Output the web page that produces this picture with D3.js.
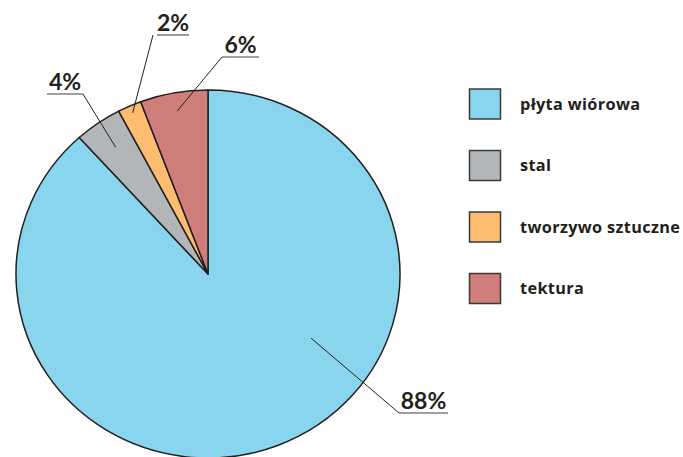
<!DOCTYPE html>
<html><head><meta charset="utf-8">
<script src="https://cdn.jsdelivr.net/npm/d3@7"></script>
<style>
body{margin:0;background:#fff;}
svg{display:block;}
text{font-family:Lato,"Open Sans",sans-serif;font-weight:700;fill:#231f20;}
text.leg{font-family:"Open Sans",Lato,sans-serif;font-weight:700;letter-spacing:0.35px;}
</style></head>
<body>
<svg id="c" width="683" height="457"></svg>
<script>
const categories = ["płyta wiórowa","stal","tworzywo sztuczne","tektura"];
const values = [88.3, 4.0, 2.0, 5.7];
const percentLabels = ["88%","4%","2%","6%"];
const colors = ["#8ad5ee","#b3b6b9","#fdbc70","#d07e7b"];

const W=683,H=457;
const cx=208, cy=274, rx=192, ry=184;
const svg=d3.select("#c");
const pie=d3.pie().sort(null).value(d=>d)(values);
const arc=d3.arc().innerRadius(0).outerRadius(rx);

const g=svg.append("g").attr("transform",`translate(${cx},${cy}) scale(1,${ry/rx})`);
g.selectAll("path").data(pie).join("path")
  .attr("d",arc).attr("fill",(d,i)=>colors[i])
  .attr("stroke","#231f20").attr("stroke-width",1.5)
  .attr("vector-effect","non-scaling-stroke").attr("stroke-linejoin","round");

// label annotations: anchor inside slice (angle deg, radius fraction), elbow & underline relative to centre
const labelCfg=[
  {ang:123, fr:0.64, ex:191, ey:139, ux0:191, ux1:240},
  {ang:null, fr:0.84, ex:-125, ey:-180, ux0:-161, ux1:-125},
  {ang:null, fr:0.96, ex:-55, ey:-239, ux0:-51, ux1:-19},
  {ang:null, fr:0.90, ex:14, ey:-217, ux0:14, ux1:51}
];
const ann=svg.append("g").attr("transform",`translate(${cx},${cy})`);
pie.forEach((d,i)=>{
  const c=labelCfg[i];
  const a=(c.ang!==null? c.ang*Math.PI/180 : (d.startAngle+d.endAngle)/2);
  const px=Math.sin(a)*rx*c.fr, py=-Math.cos(a)*ry*c.fr;
  ann.append("line").attr("x1",px).attr("y1",py).attr("x2",c.ex).attr("y2",c.ey)
    .attr("stroke","#231f20").attr("stroke-width",1);
  ann.append("line").attr("x1",c.ux0).attr("y1",c.ey).attr("x2",c.ux1).attr("y2",c.ey)
    .attr("stroke","#808080").attr("stroke-width",1.6);
  ann.append("text").attr("x",(c.ux0+c.ux1)/2).attr("y",c.ey-4)
    .attr("text-anchor","middle").attr("font-size",23).text(percentLabels[i]);
});

// legend
const ly=d3.scaleBand().domain(categories).range([89,335]).paddingInner(0);
const leg=svg.append("g");
categories.forEach((k,i)=>{
  const y=ly(k);
  leg.append("rect").attr("x",469.5).attr("y",y).attr("width",31).attr("height",30)
    .attr("fill",colors[i]).attr("stroke","#3a3a3a").attr("stroke-width",1.5);
  leg.append("text").attr("class","leg").attr("x",520).attr("y",y+20.5).attr("font-size",16.3).text(k);
});
</script>
</body></html>
